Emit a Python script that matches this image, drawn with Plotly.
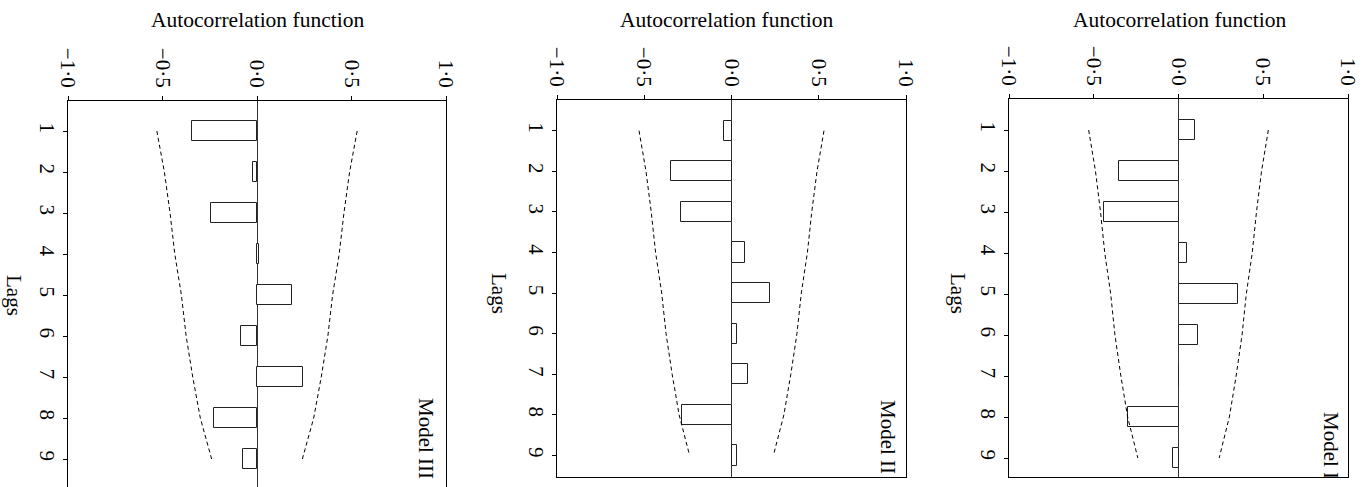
import plotly.graph_objects as go

# ---- data ----
lags = [1, 2, 3, 4, 5, 6, 7, 8, 9]
acf_model_1 = [0.10, -0.35, -0.44, 0.05, 0.35, 0.115, 0.005, -0.30, -0.035]
acf_model_2 = [-0.045, -0.345, -0.29, 0.08, 0.22, 0.03, 0.095, -0.285, 0.03]
acf_model_3 = [-0.345, -0.02, -0.245, 0.012, 0.187, -0.083, 0.245, -0.226, -0.072]
conf_bound = [0.53, 0.49, 0.46, 0.435, 0.40, 0.375, 0.34, 0.30, 0.24]
x_tick_vals = [-1.0, -0.5, 0.0, 0.5, 1.0]
x_tick_text = ["−1·0", "−0·5", "0·0", "0·5", "1·0"]
lag_tick_text = ["1", "2", "3", "4", "5", "6", "7", "8", "9"]
model_labels = ["Model III", "Model II", "Model I"]
axis_title = "Autocorrelation function"
lag_title = "Lags"

W, H = 1367, 487
FONT = "Liberation Serif, Times New Roman, serif"
FS = 21

# panel geometry in pixels (left to right)
panels = [
    dict(acf=acf_model_3, label=model_labels[0], x0=68, x1=446, top=101, bottom=487,
         lag1=131, step=41, closed=False, lagx=0, lagy=295, modx=426, mody=438, titx=257),
    dict(acf=acf_model_2, label=model_labels[1], x0=557, x1=906, top=100, bottom=477,
         lag1=130.7, step=40.6, closed=True, lagx=485, lagy=293, modx=888, mody=437, titx=726),
    dict(acf=acf_model_1, label=model_labels[2], x0=1009, x1=1348, top=99, bottom=477,
         lag1=130, step=41, closed=True, lagx=944, lagy=293, modx=1331, mody=445, titx=1179),
]

fig = go.Figure()
annotations = []
for i, p in enumerate(panels, start=1):
    xa, ya = f"x{i}", f"y{i}"
    fig.add_trace(go.Bar(
        x=p["acf"], y=lags, orientation="h", width=0.5,
        marker=dict(color="white", line=dict(color="#222", width=1)),
        xaxis=xa, yaxis=ya, showlegend=False))
    fig.add_trace(go.Scatter(
        x=conf_bound, y=lags, mode="lines",
        line=dict(color="black", width=1, dash="4px,3px"),
        xaxis=xa, yaxis=ya, showlegend=False))
    fig.add_trace(go.Scatter(
        x=[-c for c in conf_bound], y=lags, mode="lines",
        line=dict(color="black", width=1, dash="4px,3px"),
        xaxis=xa, yaxis=ya, showlegend=False))

    top_lag = 1 - (p["lag1"] - p["top"]) / p["step"]
    bot_lag = 1 + (p["bottom"] - p["lag1"]) / p["step"]
    xs = "xaxis" if i == 1 else f"xaxis{i}"
    ys = "yaxis" if i == 1 else f"yaxis{i}"
    fig.layout[xs] = dict(
        domain=[p["x0"] / W, p["x1"] / W], range=[-1, 1], side="top",
        tickvals=x_tick_vals, ticktext=x_tick_text, tickangle=90,
        ticks="outside", ticklen=4, tickcolor="black", tickwidth=1,
        showline=True, linecolor="black", linewidth=1, mirror=p["closed"],
        zeroline=True, zerolinecolor="#333", zerolinewidth=1,
        showgrid=False, anchor=ya, fixedrange=True, automargin=False,
        ticklabelstandoff=1,
        tickfont=dict(family=FONT, size=FS, color="black"))
    fig.layout[ys] = dict(
        domain=[1 - p["bottom"] / H, 1 - p["top"] / H], range=[bot_lag, top_lag],
        tickvals=lags, ticktext=lag_tick_text, tickangle=90,
        ticks="outside", ticklen=4, tickcolor="black", tickwidth=1,
        showline=True, linecolor="black", linewidth=1, mirror=True,
        zeroline=False, showgrid=False, anchor=xa, fixedrange=True, automargin=False,
        ticklabelstandoff=-2,
        tickfont=dict(family=FONT, size=FS, color="black"))

    annotations.append(dict(text=axis_title, x=p["titx"] / W, y=1 - 20 / H,
                            xref="paper", yref="paper", showarrow=False,
                            xanchor="center", yanchor="middle",
                            font=dict(family=FONT, size=21.5, color="black")))
    annotations.append(dict(text=lag_title, x=p["lagx"] / W, y=1 - p["lagy"] / H,
                            xref="paper", yref="paper", showarrow=False, textangle=90,
                            xanchor="left", yanchor="middle",
                            font=dict(family=FONT, size=FS, color="black")))
    annotations.append(dict(text=p["label"], x=p["modx"] / W, y=1 - p["mody"] / H,
                            xref="paper", yref="paper", showarrow=False, textangle=90,
                            xanchor="center", yanchor="middle",
                            font=dict(family=FONT, size=FS, color="black")))

fig.update_layout(
    template="none",
    width=W, height=H, margin=dict(l=0, r=0, t=0, b=0, autoexpand=False),
    paper_bgcolor="white", plot_bgcolor="white",
    bargap=0, annotations=annotations, showlegend=False,
    font=dict(family=FONT, size=FS, color="black"))

fig.write_html("out.html", config={"displayModeBar": False},
               post_script="document.body.style.margin='0';")
